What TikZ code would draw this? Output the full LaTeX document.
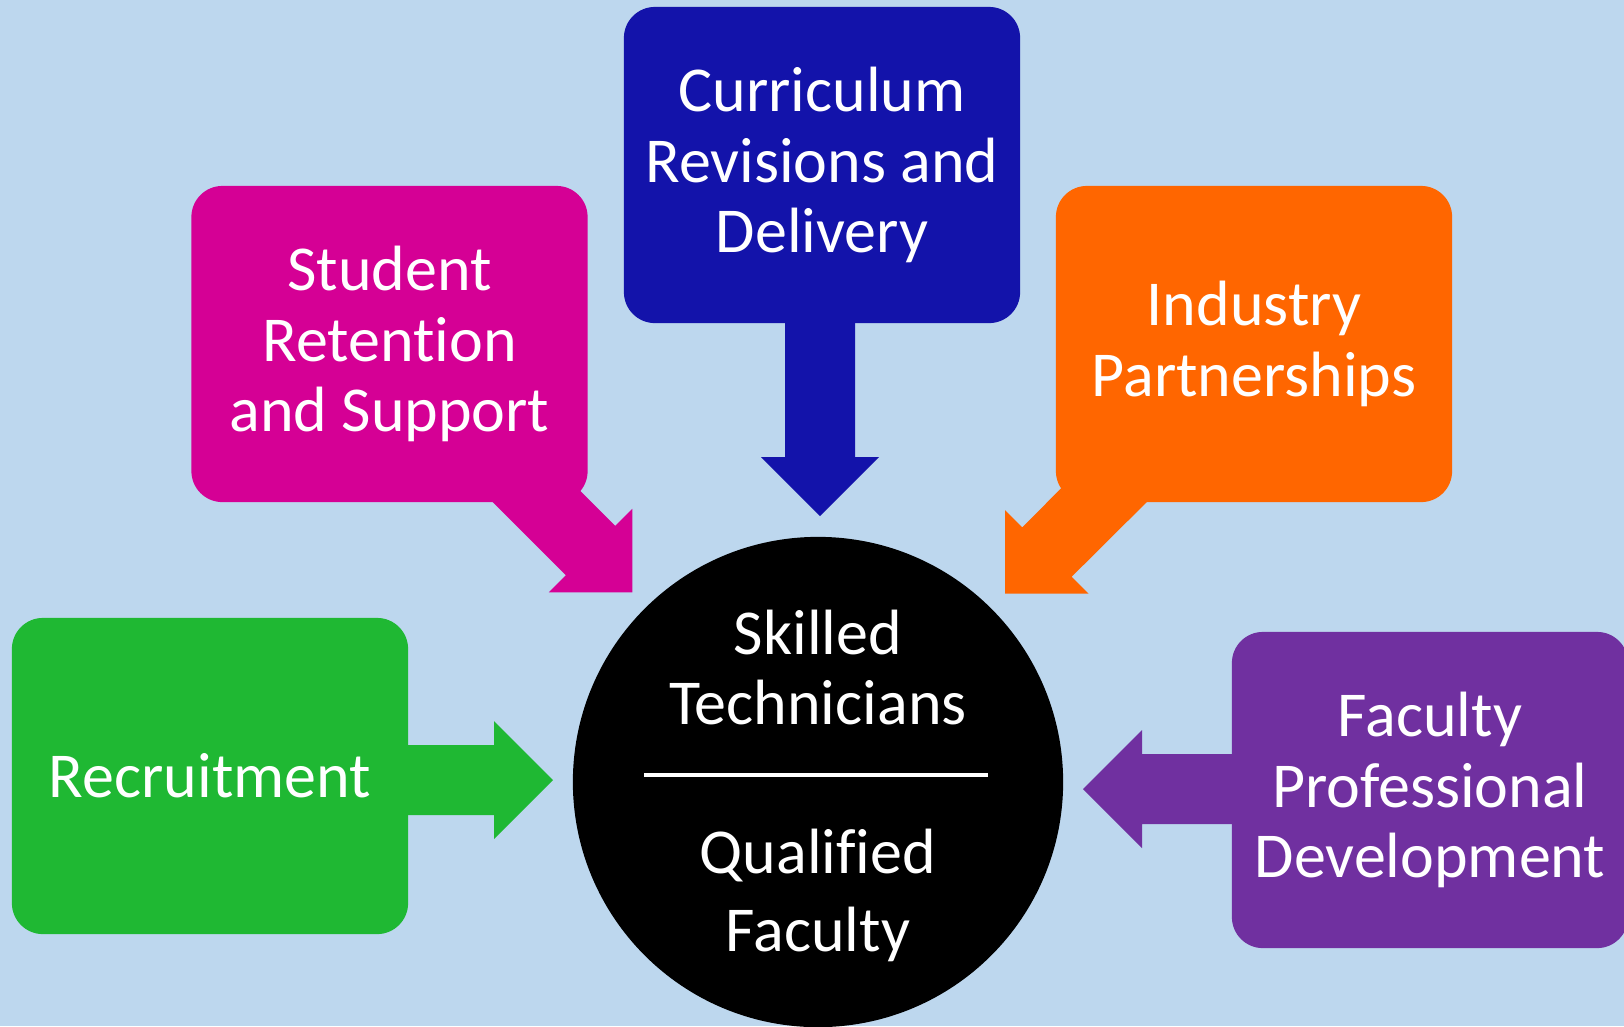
\documentclass[tikz,border=0pt]{standalone}
\usepackage{fontspec}
\setmainfont{Carlito}[Ligatures=NoCommon]
\begin{document}
\begin{tikzpicture}[x=0.01cm,y=-0.01cm]
\definecolor{bg}{HTML}{BDD7EE}
\definecolor{cblue}{HTML}{1313AA}
\definecolor{cpink}{HTML}{D50095}
\definecolor{corange}{HTML}{FF6600}
\definecolor{cgreen}{HTML}{1FB833}
\definecolor{cpurple}{HTML}{7030A0}
\tikzset{
  box/.style={rounded corners=0.31cm, minimum width=3.96cm, minimum height=3.16cm,
    text=white, align=center, inner sep=0pt,
    font=\fontsize{18.2}{20}\selectfont},
  hubtext/.style={text=white, anchor=base, inner sep=0pt,
    font=\fontsize{18.2}{20}\selectfont},
}
\fill[bg] (0,0) rectangle (1624,1026);
\useasboundingbox (0,0) rectangle (1624,1026);

% block arrows
\fill[cblue] (785,300) -- (855,300) -- (855,457) -- (879,457) -- (820,516)
  -- (761,457) -- (785,457) -- cycle;
\fill[cpink] (459.8,469.2) -- (509.2,419.8) -- (615.3,525.9) -- (632.3,508.9)
  -- (632.3,592.3) -- (548.9,592.3) -- (565.9,575.3) -- cycle;
\fill[corange] (1128,421) -- (1178,471) -- (1071.7,576.7) -- (1088.6,593.6)
  -- (1005,593.6) -- (1005,510.2) -- (1022.3,527.3) -- cycle;
\fill[cgreen] (380,745) -- (494,745) -- (494,721) -- (553,780) -- (494,839)
  -- (494,815) -- (380,815) -- cycle;
\fill[cpurple] (1260,754) -- (1142,754) -- (1142,730) -- (1083,789) -- (1142,848)
  -- (1142,824) -- (1260,824) -- cycle;

% boxes
\node[box, fill=cblue] (curr) at (822,165) {Curriculum\\Revisions and\\Delivery};
\node[box, fill=cpink] (stud) at (389.5,344) {Student\\Retention\\and Support};
\node[box, fill=corange] (ind) at (1254,344) {Industry\\Partnerships};
\node[box, fill=cgreen] (rec) at (210,776) {Recruitment};
\node[box, fill=cpurple] (fac) at (1430,790) {Faculty\\Professional\\Development};

% hub
\node[circle, fill=black, minimum size=4.9cm, inner sep=0pt] (hub) at (818,782) {};
\coordinate (lineL) at (644,775);
\coordinate (lineR) at (988,775);
\draw[white, line width=0.9pt] (lineL) -- (lineR);
\node[hubtext] (t1) at (818,654.5) {Skilled};
\node[hubtext] (t2) at (818,724) {Technicians};
\node[hubtext] (t3) at (818,873) {Qualified};
\node[hubtext] (t4) at (818,951) {Faculty};
\end{tikzpicture}
\end{document}
